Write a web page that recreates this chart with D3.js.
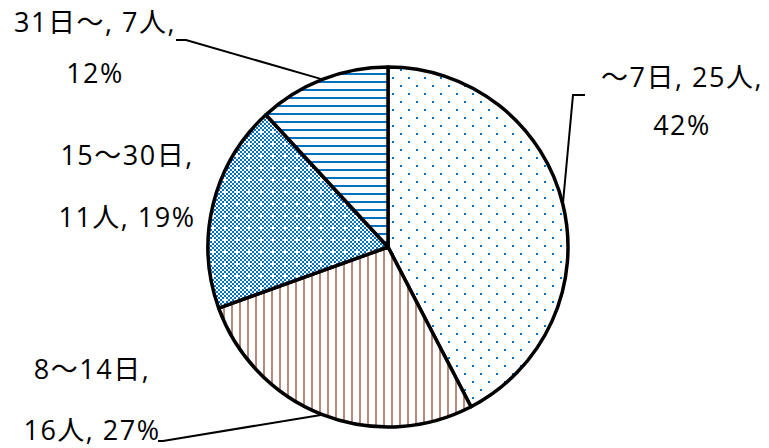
<!DOCTYPE html>
<html>
<head>
    <meta charset="utf-8">
    <script src="https://d3js.org/d3.v7.min.js"></script>
    <style>
        body { margin: 0; background: #fff; }
        text { font-family: "Open Sans", "Noto Sans CJK JP", sans-serif; fill: #000; }
    </style>
</head>
<body>
    <svg width="769" height="448"></svg>

    <script>
        // 日数区分ごとの人数
        var categories = ["～7日", "8～14日", "15～30日", "31日～"];
        var counts = [25, 16, 11, 7];
        var percents = ["42%", "27%", "19%", "12%"];

        // ラベルの行分け (Excelの自動配置と同じ改行)
        var labelLines = [
            [categories[0] + ", " + counts[0] + "人,", percents[0]],
            [categories[1] + ",", counts[1] + "人, " + percents[1]],
            [categories[2] + ",", counts[2] + "人, " + percents[2]],
            [categories[3] + ", " + counts[3] + "人,", percents[3]]
        ];

        var svg = d3.select("svg"),
            cx = 388, cy = 247, r = 180;

        var defs = svg.append("defs");

        // 点 (～7日)
        var p0 = defs.append("pattern").attr("id", "pat0")
            .attr("patternUnits", "userSpaceOnUse")
            .attr("x", 12).attr("y", 14).attr("width", 16).attr("height", 16);
        p0.append("rect").attr("width", 16).attr("height", 16).attr("fill", "#fff");
        p0.append("rect").attr("x", 0).attr("y", 0).attr("width", 2).attr("height", 2).attr("fill", "#0070c0");
        p0.append("rect").attr("x", 8).attr("y", 8).attr("width", 2).attr("height", 2).attr("fill", "#0070c0");

        // 縦線 (8～14日)
        var p1 = defs.append("pattern").attr("id", "pat1")
            .attr("patternUnits", "userSpaceOnUse")
            .attr("x", 3).attr("width", 8).attr("height", 8);
        p1.append("rect").attr("width", 8).attr("height", 8).attr("fill", "#fff");
        p1.append("rect").attr("width", 2).attr("height", 8).attr("fill", "#b58b80");

        // 市松 + 白い十字 (15～30日)
        var p2 = defs.append("pattern").attr("id", "pat2")
            .attr("patternUnits", "userSpaceOnUse")
            .attr("width", 12).attr("height", 12)
            .attr("shape-rendering", "crispEdges");
        p2.append("rect").attr("width", 12).attr("height", 12).attr("fill", "#0070c0");
        for (var i = 0; i < 6; i++) {
            for (var j = 0; j < 6; j++) {
                if ((i + j) % 2 === 1 || (i === 2 && j === 2)) {
                    p2.append("rect").attr("x", i * 2).attr("y", j * 2)
                        .attr("width", 2).attr("height", 2).attr("fill", "#fff");
                }
            }
        }

        // 横線 (31日～)
        var p3 = defs.append("pattern").attr("id", "pat3")
            .attr("patternUnits", "userSpaceOnUse")
            .attr("y", 2).attr("width", 8).attr("height", 8);
        p3.append("rect").attr("width", 8).attr("height", 8).attr("fill", "#fff");
        p3.append("rect").attr("width", 8).attr("height", 2).attr("fill", "#0070c0");

        var pie = d3.pie().sort(null).value(function(d) { return d; });
        var arc = d3.arc().innerRadius(0).outerRadius(r);
        var arcs = pie(counts);

        var g = svg.append("g").attr("transform", "translate(" + cx + "," + cy + ")");

        g.selectAll("path")
            .data(arcs)
            .enter().append("path")
            .attr("d", arc)
            .attr("fill", function(d, i) { return "url(#pat" + i + ")"; })
            .attr("stroke", "#000")
            .attr("stroke-width", 3.5)
            .attr("stroke-linejoin", "round");

        // ラベル位置 (中心x, 1行目のベースライン, 2行目のベースライン)
        var labelPos = [
            [682, 87, 135],
            [92, 379, 440],
            [127, 165, 227],
            [95, 32, 83]
        ];

        labelLines.forEach(function(lines, i) {
            var t = svg.append("text")
                .attr("text-anchor", "middle")
                .attr("font-size", 27)
                .attr("letter-spacing", 1.5);
            t.append("tspan").attr("x", labelPos[i][0]).attr("y", labelPos[i][1]).text(lines[0]);
            t.append("tspan").attr("x", labelPos[i][0]).attr("y", labelPos[i][2]).text(lines[1]);
        });

        // 引き出し線 (スライス中央の角度で円周に当てる)
        var leaders = [
            { slice: 0, pts: [[585, 95], [573, 95]] },
            { slice: 1, pts: [[158, 441], [163, 441]] },
            { slice: 3, pts: [[176, 40], [186, 40]] }
        ];

        leaders.forEach(function(l) {
            var a = arcs[l.slice];
            var ang = (a.startAngle + a.endAngle) / 2;
            var end = [cx + r * Math.sin(ang), cy - r * Math.cos(ang)];
            svg.append("path")
                .attr("d", d3.line()(l.pts.concat([end])))
                .attr("fill", "none")
                .attr("stroke", "#000")
                .attr("stroke-width", 2);
        });
    </script>
</body>
</html>
